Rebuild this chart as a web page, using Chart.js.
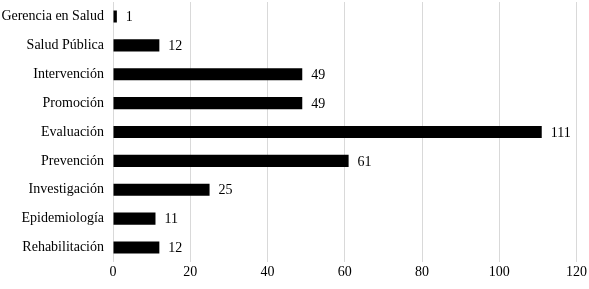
<!DOCTYPE html>
<html>
<head>
<meta charset="utf-8">
<script src="https://cdn.jsdelivr.net/npm/chart.js@4.4.1/dist/chart.umd.min.js"></script>
<style>
  html, body { margin: 0; padding: 0; background: #fff; }
  #wrap { width: 589px; height: 289px; }
</style>
</head>
<body>
<div id="wrap"><canvas id="chart"></canvas></div>
<script>
// categories, top to bottom
var labels = ["Gerencia en Salud", "Salud Pública", "Intervención", "Promoción", "Evaluación",
              "Prevención", "Investigación", "Epidemiología", "Rehabilitación"];
var counts = [1, 12, 49, 49, 111, 61, 25, 11, 12];
var xTicks = [0, 20, 40, 60, 80, 100, 120];

var serif = "'Liberation Serif', 'DejaVu Serif', serif";

// write the value just past the end of each bar
var valueLabels = {
  id: "valueLabels",
  afterDatasetsDraw: function(chart) {
    var ctx = chart.ctx;
    var meta = chart.getDatasetMeta(0);
    ctx.save();
    ctx.font = "14px " + serif;
    ctx.fillStyle = "#000";
    ctx.textAlign = "left";
    ctx.textBaseline = "middle";
    meta.data.forEach(function(bar, i) {
      ctx.fillText(String(counts[i]), bar.x + 9, bar.y + 1);
    });
    ctx.restore();
  }
};

new Chart(document.getElementById("chart"), {
  type: "bar",
  data: {
    labels: labels,
    datasets: [{
      data: counts,
      backgroundColor: "#000",
      borderWidth: 0,
      categoryPercentage: 1,
      barPercentage: 0.42
    }]
  },
  options: {
    indexAxis: "y",
    responsive: true,
    maintainAspectRatio: false,
    animation: false,
    layout: { padding: { top: 2, right: 0, bottom: 0, left: 0 } },
    plugins: { legend: { display: false }, tooltip: { enabled: false } },
    scales: {
      x: {
        min: 0, max: 120,
        afterBuildTicks: function(scale) {
          scale.ticks = xTicks.map(function(v) { return { value: v }; });
        },
        afterFit: function(scale) { scale.height = 27; },
        grid: { color: "#d9d9d9", lineWidth: 1, drawTicks: false },
        border: { display: false },
        ticks: { color: "#000", font: { family: serif, size: 14 }, padding: 2, maxRotation: 0 }
      },
      y: {
        afterFit: function(scale) {
          scale.width = 113;
          scale.paddingTop = 0;
          scale.paddingBottom = 0;
        },
        grid: { display: false, drawTicks: false },
        border: { display: false },
        ticks: { color: "#000", font: { family: serif, size: 14 }, padding: 9 }
      }
    }
  },
  plugins: [valueLabels]
});
</script>
</body>
</html>
